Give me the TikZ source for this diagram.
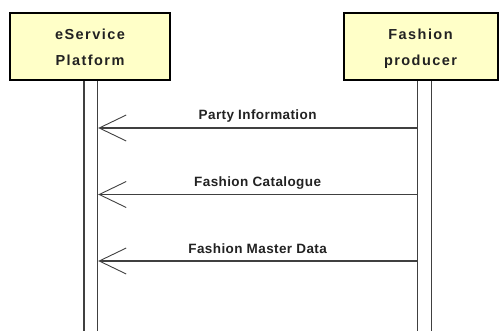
\documentclass[tikz,border=0pt]{standalone}
\usepackage{fontspec}
\setmainfont{Liberation Sans}
\newfontfamily\boxfont[LetterSpace=10]{Liberation Sans Bold}
\newfontfamily\msgfont[LetterSpace=3]{Liberation Sans Bold}
\usetikzlibrary{arrows.meta,calc}
\definecolor{boxfill}{HTML}{FFFFC8}
\definecolor{linegray}{HTML}{404040}
\definecolor{txtgray}{HTML}{222222}
\tikzset{
  actor/.style={draw=black, line width=2pt, fill=boxfill, minimum height=67pt, inner sep=0pt},
  actortext/.style={anchor=base, inner sep=0pt, text=txtgray, font=\boxfont\fontsize{14.5}{26}\selectfont},
  lifebar/.style={draw=linegray, line width=1.4pt, fill=white, minimum width=13.5pt, minimum height=260pt, inner sep=0pt, anchor=north},
  msg/.style={draw=linegray, line width=1.2pt, -{Straight Barb[length=27pt,width=26pt,line width=0.9pt]}},
  msglabel/.style={anchor=base, text=txtgray, font=\msgfont\fontsize{13.5}{15}\selectfont, inner sep=0pt}
}
\begin{document}
\begin{tikzpicture}[x=1pt,y=-1pt]
\useasboundingbox (0,0) rectangle (500,331);
\begin{scope}
\clip (0,0) rectangle (500,331);
\node[lifebar] (lbar) at (90.75,80) {};
\node[lifebar] (rbar) at (424.5,80) {};
\end{scope}
\node[actor, minimum width=160pt] (eplat) at (90,46.5) {};
\node[actor, minimum width=154pt] (fprod) at (420.5,46.5) {};
\node[actortext] (eplat1) at (eplat.center |- 0,40) {eService};
\node[actortext] (eplat2) at (eplat.center |- 0,66) {Platform};
\node[actortext] (fprod1) at (fprod.center |- 0,40) {Fashion};
\node[actortext] (fprod2) at (fprod.center |- 0,66) {producer};
\coordinate (m1r) at (rbar.west |- 0,128);
\coordinate (m1l) at (lbar.east |- 0,128);
\coordinate (m2r) at (rbar.west |- 0,194.5);
\coordinate (m2l) at (lbar.east |- 0,194.5);
\coordinate (m3r) at (rbar.west |- 0,261);
\coordinate (m3l) at (lbar.east |- 0,261);
\draw[msg] (m1r) -- (m1l);
\draw[msg] (m2r) -- (m2l);
\draw[msg] (m3r) -- (m3l);
\node[msglabel] (l1) at ($(m1r)!0.5!(m1l)+(0,-8)$) {Party Information};
\node[msglabel] (l2) at ($(m2r)!0.5!(m2l)+(0,-8)$) {Fashion Catalogue};
\node[msglabel] (l3) at ($(m3r)!0.5!(m3l)+(0,-8)$) {Fashion Master Data};
\end{tikzpicture}
\end{document}
